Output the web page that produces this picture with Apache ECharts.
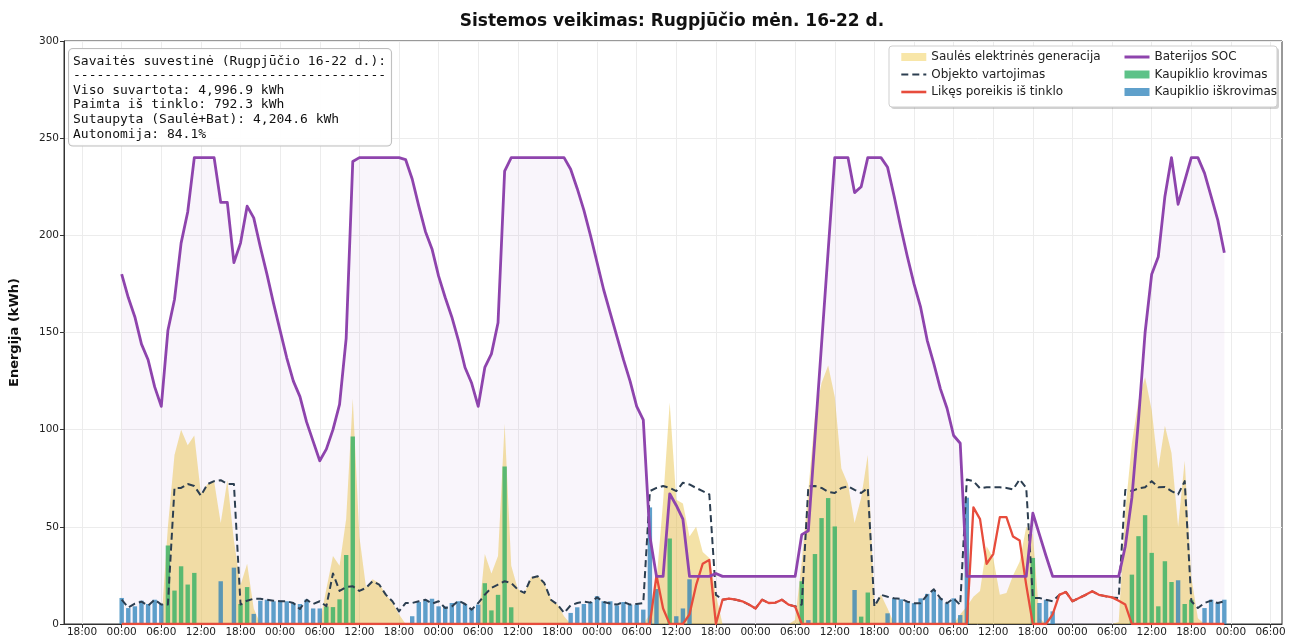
<!DOCTYPE html>
<html>
<head>
<meta charset="utf-8">
<title>Sistemos veikimas</title>
<script src="https://cdn.jsdelivr.net/npm/echarts@6.0.0/dist/echarts.min.js"></script>
<style>
  html, body { margin: 0; padding: 0; background: #fff; }
  #main { width: 1291px; height: 640px; }
</style>
</head>
<body>
<div id="main"></div>
<script>
// valandos nuo rugpjucio 16 d. 00:00, po 24 reiksmes kiekvienai dienai
const xTickHours = [-6, 0, 6, 12, 18, 24, 30, 36, 42, 48, 54, 60, 66, 72, 78, 84, 90, 96,
  102, 108, 114, 120, 126, 132, 138, 144, 150, 156, 162, 168, 174];
const xTickLabels = ['18:00', '00:00', '06:00', '12:00', '18:00', '00:00', '06:00', '12:00',
  '18:00', '00:00', '06:00', '12:00', '18:00', '00:00', '06:00', '12:00', '18:00', '00:00',
  '06:00', '12:00', '18:00', '00:00', '06:00', '12:00', '18:00', '00:00', '06:00', '12:00',
  '18:00', '00:00', '06:00'];
const yTicks = [0, 50, 100, 150, 200, 250, 300];

const solarGen = [
  0, 0, 0, 0, 0, 0, 0, 50, 87, 100, 92, 97, 67, 72, 73.5, 52, 74, 43, 20, 31, 8, 0, 0, 0,
  0, 0, 0, 0, 0, 0, 0.5, 18, 35, 30, 54, 116, 45, 19, 23, 21, 15, 11, 5, 0, 0, 0, 0, 0,
  0, 0, 0, 0, 0, 0, 1, 36, 26, 35, 103, 30, 18, 16, 24, 25, 21, 13, 10, 4, 0, 0, 0, 0,
  0, 0, 0, 0, 0, 0, 0, 0, 5, 22, 63, 114, 64, 62, 45, 50, 37, 34, 15, 0, 0, 0, 0, 0,
  0, 0, 0, 0, 0, 0, 2, 32, 69, 107, 124, 133, 117, 80, 72, 52, 65, 87, 10, 15, 8, 0, 0, 0,
  0, 0, 0, 0, 0, 0, 0, 5, 9, 14, 17, 40, 34, 15, 16, 25, 32, 50, 46, 3, 0, 0, 0, 0,
  0, 0, 0, 0, 0, 0, 0, 1, 58, 93, 115, 127, 110, 80, 102, 88, 50, 84, 24, 3, 0, 0, 0, 0
];
const consumption = [
  12.5, 8.5, 10.5, 11.5, 9.5, 12.5, 10, 10, 70, 70, 72, 71, 66, 72, 73.5, 74, 72, 72, 10, 12, 13, 13, 12.5, 12,
  11.7, 11.7, 10.8, 7.7, 12.5, 10.3, 11.7, 9.1, 26, 17, 19, 19.4, 17, 18.6, 22, 20.3, 15.1, 11.7, 6.5, 10.8, 10.8, 11.7, 12.5, 10.5,
  11.7, 8.2, 9, 12, 10.3, 7.4, 10.8, 15.1, 18.6, 20.3, 22, 21.1, 17.7, 16, 23.7, 24.6, 21.1, 12.5, 10, 5.7, 9.6, 10.8, 11.5, 11,
  13.7, 11.3, 10.5, 10, 11.3, 10, 10.3, 10.8, 68.4, 70, 71, 70, 68.4, 72.7, 71.8, 70, 68.4, 66.7, 15, 12.5, 13, 12.5, 11.7, 10,
  8, 12.5, 10.8, 11, 12.5, 10, 9, 10, 70.8, 71, 70, 68, 67.4, 70, 70.8, 69, 67.4, 70, 9, 15, 14, 13.2, 13, 11.5,
  10.7, 10.7, 15, 17.9, 13.2, 10.7, 13.2, 9.8, 74.4, 73.5, 69.8, 70.4, 70.4, 70.4, 70, 69.2, 74.4, 70, 13.4, 13.4, 12.5, 11.7, 15, 16.5,
  11.7, 13.4, 15, 16.8, 15, 14.3, 13.7, 13.4, 69, 68.4, 69.8, 70.4, 73.5, 70.4, 70.5, 68.4, 66.7, 73.5, 11.7, 8.2, 10.8, 12, 10.8, 11.7
];
const gridNeed = [
  0, 0, 0, 0, 0, 0, 0, 0, 0, 0, 0, 0, 0, 0, 0, 0, 0, 0, 0, 0, 0, 0, 0, 0,
  0, 0, 0, 0, 0, 0, 0, 0, 0, 0, 0, 0, 0, 0, 0, 0, 0, 0, 0, 0, 0, 0, 0, 0,
  0, 0, 0, 0, 0, 0, 0, 0, 0, 0, 0, 0, 0, 0, 0, 0, 0, 0, 0, 0, 0, 0, 0, 0,
  0, 0, 0, 0, 0, 0, 0, 0, 0, 25, 8, 0, 0, 0, 5, 20, 31, 33, 0, 12.5, 13, 12.5, 11.7, 10,
  8, 12.5, 10.8, 11, 12.5, 10, 9, 0, 0, 0, 0, 0, 0, 0, 0, 0, 0, 0, 0, 0, 0, 0, 0, 0,
  0, 0, 0, 0, 0, 0, 0, 0, 0, 60, 54, 31, 36, 55, 55, 45, 43, 20, 0, 0, 0, 5, 15, 16.5,
  11.7, 13.4, 15, 16.8, 15, 14.3, 13.7, 12, 10, 0, 0, 0, 0, 0, 0, 0, 0, 0, 0, 0, 0, 0, 0, 0
];
const batterySoc = [
  180, 168, 158, 144, 136, 122, 112, 151, 167, 196, 212, 240, 240, 240, 240, 217, 217, 186, 196, 215, 209, 194, 180, 165,
  151, 137, 125, 117, 104, 94, 84, 90, 100, 113, 147, 238, 240, 240, 240, 240, 240, 240, 240, 239, 229, 215, 202, 193,
  179, 168, 158, 146, 132, 124, 112, 132, 139, 155, 233, 240, 240, 240, 240, 240, 240, 240, 240, 240, 234, 224, 213, 200,
  186, 172, 160, 148, 136, 125, 112, 105, 45, 24.5, 24.5, 67, 61, 54, 24.5, 24.5, 24.5, 24.5, 26, 24.5, 24.5, 24.5, 24.5, 24.5,
  24.5, 24.5, 24.5, 24.5, 24.5, 24.5, 24.5, 46, 48, 96, 144, 192, 240, 240, 240, 222, 225, 240, 240, 240, 235, 220, 204, 189,
  175, 163, 146, 134, 121, 111, 97, 93, 24.5, 24.5, 24.5, 24.5, 24.5, 24.5, 24.5, 24.5, 24.5, 24.5, 57, 46, 35, 24.5, 24.5, 24.5,
  24.5, 24.5, 24.5, 24.5, 24.5, 24.5, 24.5, 24.5, 40, 65, 105, 150, 180, 189, 220, 240, 216, 228, 240, 240, 232, 220, 208, 191
];
const chargeKwh = [
  0, 0, 0, 0, 0, 0, 0, 40.4, 17.2, 29.7, 20.3, 26.3, 0, 0, 0, 0, 0, 0, 10.3, 19, 0, 0, 0, 0,
  0, 0, 0, 0, 0, 0, 0, 9, 8.7, 12.7, 35.5, 96.5, 0, 0, 0, 0, 0, 0, 0, 0, 0, 0, 0, 0,
  0, 0, 0, 0, 0, 0, 0, 21, 7, 15, 81, 8.6, 0, 0, 0, 0, 0, 0, 0, 0, 0, 0, 0, 0,
  0, 0, 0, 0, 0, 0, 0, 0, 0, 0, 0, 44, 0, 0, 0, 0, 0, 0, 0, 0, 0, 0, 0, 0,
  0, 0, 0, 0, 0, 0, 0, 22, 0, 36, 54.5, 64.8, 50.2, 0, 0, 0, 3.8, 16.2, 0, 0, 0, 0, 0, 0,
  0, 0, 0, 0, 0, 0, 0, 0, 0, 0, 0, 0, 0, 0, 0, 0, 0, 0, 34, 0, 0, 0, 0, 0,
  0, 0, 0, 0, 0, 0, 0, 0, 0, 25.4, 45.2, 56, 36.6, 9.1, 32.3, 21.6, 0, 10.3, 12.5, 0, 0, 0, 0, 0
];
const dischargeKwh = [
  13.4, 8.2, 9.1, 12, 10.3, 12.5, 10.3, 0, 0, 0, 0, 0, 0, 0, 0, 22, 0, 29, 0, 0, 5.2, 12, 12.5, 11.7,
  12, 11.7, 10.8, 10.3, 12.5, 8, 8, 0, 0, 0, 0, 0, 0, 0, 0, 0, 0, 0, 0, 0, 4, 11.3, 12, 13,
  9.1, 9, 10.8, 11.7, 10.3, 8.2, 10, 0, 0, 0, 0, 0, 0, 0, 0, 0, 0, 0, 0, 0, 5.7, 8.6, 10.3, 11.3,
  14.3, 11.7, 11.7, 9.6, 11.3, 10, 10, 7.4, 60, 18, 0, 0, 4, 8, 23, 0, 0, 0, 0, 0, 0, 0, 0, 0,
  0, 0, 0, 0, 0, 0, 0, 0, 2, 0, 0, 0, 0, 0, 0, 17.5, 0, 0, 0, 0, 5.5, 13.2, 12.7, 11.5,
  10.7, 13.2, 15.5, 17.5, 13.2, 10.7, 13.2, 4.6, 65, 0, 0, 0, 0, 0, 0, 0, 0, 0, 0, 10.8, 12.5, 6.5, 0, 0,
  0, 0, 0, 0, 0, 0, 0, 0, 0, 0, 0, 0, 0, 0, 0, 0, 22.5, 0, 0, 0, 8.2, 12.5, 10.8, 12.5
];

const summaryLines = [
  'Savaitės suvestinė (Rugpjūčio 16-22 d.):',
  '----------------------------------------',
  'Viso suvartota: 4,996.9 kWh',
  'Paimta iš tinklo: 792.3 kWh',
  'Sutaupyta (Saulė+Bat): 4,204.6 kWh',
  'Autonomija: 84.1%'
];

const NAME_SOLAR = 'Saulės elektrinės generacija';
const NAME_LOAD = 'Objekto vartojimas';
const NAME_GRID = 'Likęs poreikis iš tinklo';
const NAME_SOC = 'Baterijos SOC';
const NAME_CHG = 'Kaupiklio krovimas';
const NAME_DIS = 'Kaupiklio iškrovimas';

const toPairs = arr => arr.map((v, i) => [i, v]);

const chart = echarts.init(document.getElementById('main'));

const legendCommon = {
  orient: 'vertical',
  top: 50,
  padding: 0,
  itemGap: 3.5,
  itemWidth: 25,
  itemHeight: 8,
  textStyle: { fontSize: 12, color: '#222', lineHeight: 14, fontFamily: 'DejaVu Sans' },
  z: 6
};
// linijos legendoje be tasku, kiek storesnes
const lineItem = (name, w) => ({ name: name, itemStyle: { opacity: 0 }, lineStyle: { width: w } });

const option = {
  animation: false,
  backgroundColor: '#ffffff',
  textStyle: { fontFamily: 'DejaVu Sans' },
  grid: {
    left: 61, right: 9, top: 41, bottom: 16,
    show: true, borderColor: '#333', borderWidth: 1
  },
  xAxis: {
    type: 'value',
    min: -8.735,
    max: 175.735,
    axisLine: { onZero: false, lineStyle: { color: '#333' } },
    axisTick: { customValues: xTickHours, length: 4, lineStyle: { color: '#333' } },
    axisLabel: {
      customValues: xTickHours,
      formatter: v => xTickLabels[xTickHours.indexOf(Math.round(v))] || '',
      fontSize: 10.5, color: '#222', margin: 3
    },
    splitLine: { show: true, lineStyle: { color: '#ececec', width: 1 } }
  },
  yAxis: {
    type: 'value',
    min: yTicks[0],
    max: yTicks[yTicks.length - 1],
    interval: yTicks[1] - yTicks[0],
    name: 'Energija (kWh)',
    nameLocation: 'middle',
    nameGap: 43,
    nameTextStyle: { fontSize: 13, fontWeight: 'bold', color: '#111' },
    axisLine: { show: true, onZero: false, lineStyle: { color: '#333' } },
    axisTick: { show: true, length: 4, lineStyle: { color: '#333' } },
    axisLabel: { fontSize: 10.5, color: '#222', margin: 5 },
    splitLine: { show: true, lineStyle: { color: '#ececec', width: 1 } }
  },
  legend: [
    Object.assign({}, legendCommon, {
      left: 900,
      data: [
        { name: NAME_SOLAR, icon: 'rect', itemStyle: { color: '#f8e6a8', borderWidth: 0 } },
        lineItem(NAME_LOAD, 2.2),
        lineItem(NAME_GRID, 2.6)
      ]
    }),
    Object.assign({}, legendCommon, {
      left: 1123,
      data: [
        lineItem(NAME_SOC, 3),
        { name: NAME_CHG, icon: 'rect' },
        { name: NAME_DIS, icon: 'rect' }
      ]
    })
  ],
  graphic: [
    {
      type: 'text', x: 672, y: 22, z: 10,
      style: {
        text: 'Sistemos veikimas: Rugpjūčio mėn. 16-22 d.',
        font: 'bold 17px "DejaVu Sans"', fill: '#111',
        align: 'center', verticalAlign: 'middle'
      }
    },
    {
      type: 'text', x: 69, y: 49, z: 10,
      style: {
        text: summaryLines.join('\n'),
        font: '13px "DejaVu Sans Mono"', fill: '#111',
        lineHeight: 14.6,
        backgroundColor: 'rgba(255,255,255,0.92)',
        borderColor: '#bdbdbd', borderWidth: 1, borderRadius: 4,
        padding: [5, 5, 4, 4]
      }
    },
    {
      type: 'rect', z: 3,
      shape: { x: 891, y: 48, width: 388, height: 61, r: 3 },
      style: { fill: 'rgba(0,0,0,0.18)' }
    },
    {
      type: 'rect', z: 4,
      shape: { x: 889, y: 46, width: 388, height: 61, r: 3 },
      style: { fill: '#ffffff', stroke: '#cfcfcf', lineWidth: 1 }
    }
  ],
  series: [
    {
      name: 'socFill', type: 'line', data: toPairs(batterySoc), symbol: 'none',
      lineStyle: { width: 0 }, areaStyle: { color: 'rgba(142,68,173,0.075)' },
      z: 1, silent: true
    },
    {
      name: NAME_SOLAR, type: 'line', data: toPairs(solarGen), symbol: 'none',
      itemStyle: { color: '#f8e6a8' },
      lineStyle: { width: 0 },
      areaStyle: { color: 'rgba(230,190,60,0.45)', opacity: 1 },
      z: 2
    },
    {
      name: NAME_CHG, type: 'bar', data: toPairs(chargeKwh),
      barWidth: 4.4, barGap: '-100%',
      itemStyle: { color: 'rgba(39,174,96,0.75)' },
      z: 3
    },
    {
      name: NAME_DIS, type: 'bar', data: toPairs(dischargeKwh),
      barWidth: 4.4, barGap: '-100%',
      itemStyle: { color: 'rgba(41,128,185,0.75)' },
      z: 3
    },
    {
      name: NAME_LOAD, type: 'line', data: toPairs(consumption), symbol: 'none',
      itemStyle: { color: '#2c3e50' },
      lineStyle: { color: '#2c3e50', width: 2, type: [7, 4], join: 'round' },
      z: 4
    },
    {
      name: NAME_GRID, type: 'line', data: toPairs(gridNeed), symbol: 'none',
      itemStyle: { color: '#e74c3c' },
      lineStyle: { color: '#e74c3c', width: 2.3, join: 'round' },
      z: 5
    },
    {
      name: NAME_SOC, type: 'line', data: toPairs(batterySoc), symbol: 'none',
      itemStyle: { color: '#8e44ad' },
      lineStyle: { color: '#8e44ad', width: 2.8, join: 'round' },
      z: 6
    }
  ]
};

chart.setOption(option);
</script>
</body>
</html>
